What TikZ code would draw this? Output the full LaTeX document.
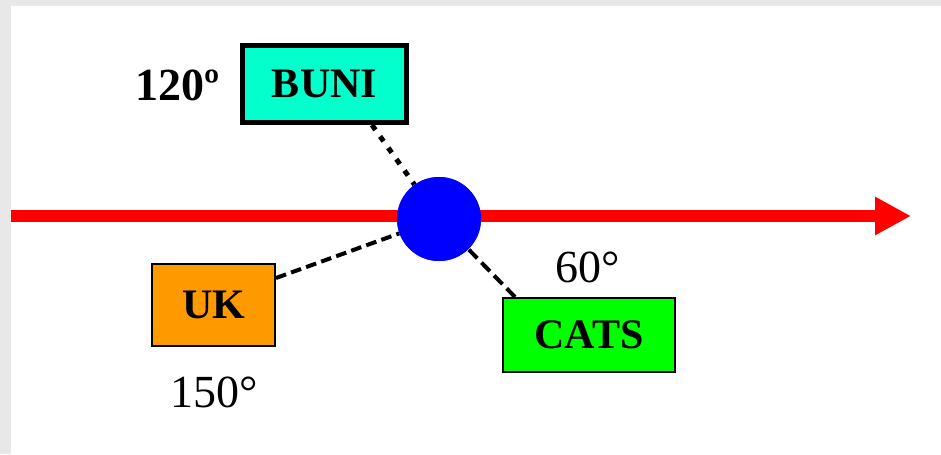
\documentclass[tikz,border=0pt]{standalone}
\usepackage{fontspec}
\setmainfont{Liberation Serif}
\usetikzlibrary{arrows.meta}
\definecolor{bgGray}{RGB}{232,232,232}
\definecolor{buniC}{RGB}{3,255,204}
\definecolor{ukC}{RGB}{255,153,0}
\definecolor{catsC}{RGB}{0,255,0}
\definecolor{arrRed}{RGB}{255,0,0}
\definecolor{hubBlue}{RGB}{0,0,255}
\tikzset{
  box/.style={draw=black, rectangle, inner sep=0pt, font=\fontsize{31.5pt}{36pt}\selectfont\bfseries},
  lbl/.style={inner sep=0pt, anchor=base, font=\fontsize{34.5pt}{40pt}\selectfont},
  dotline/.style={line width=3.75pt, dash pattern=on 4.5pt off 6pt},
  dashline/.style={line width=3pt, dash pattern=on 8pt off 4pt},
}
\begin{document}
\begin{tikzpicture}[x=0.75pt,y=-0.75pt]
\useasboundingbox (0,0) rectangle (941,454);
\fill[bgGray] (0,0) rectangle (941,454);
\fill[white] (11,6) rectangle (941,454);
% red axis
\coordinate (axstart) at (11,216);
\coordinate (axend) at (911,216);
\draw[arrRed, line width=9pt, -{Triangle[length=27pt,width=27pt]}] (axstart) -- (axend);
% boxes
\node[box, line width=3.75pt, fill=buniC, minimum width=123pt, minimum height=57.75pt] (buni) at (324.5,84) {BUNI};
\node[box, line width=1.5pt, fill=ukC, minimum width=92.25pt, minimum height=61.5pt] (uk) at (213.5,305) {UK};
\node[box, line width=1.5pt, fill=catsC, minimum width=129pt, minimum height=55.5pt] (cats) at (589,335) {CATS};
% hub
\node[circle, fill=hubBlue, inner sep=0pt, minimum size=63pt] (hub) at (439,219) {};
% connectors
\draw[dotline] ([xshift=35.6pt]buni.south) -- (hub);
\draw[dashline] ([yshift=20.25pt]uk.east) -- (hub);
\draw[dashline, dash pattern=on 9pt off 4.5pt] ([xshift=-55.5pt]cats.north) -- (hub);
% redraw hub on top
\node[circle, fill=hubBlue, inner sep=0pt, minimum size=63pt] at (439,219) {};
% labels
\node[lbl, font=\fontsize{34.5pt}{40pt}\selectfont\bfseries] (l120) at (178,100) {120º};
\node[lbl] (l60) at (587.5,282) {60°};
\node[lbl] (l150) at (214.5,407) {150°};
\end{tikzpicture}
\end{document}
